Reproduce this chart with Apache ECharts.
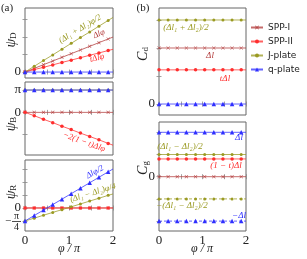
<!DOCTYPE html>
<html><head><meta charset="utf-8">
<script src="https://cdn.jsdelivr.net/npm/echarts@6/dist/echarts.min.js"></script>
<style>html,body{margin:0;padding:0;background:#fff}#c{width:307px;height:259px}</style>
</head><body><div id="c"></div>
<script>
// ---- data (phi in units of pi; last point is the unmarked line end) ----
const phi = [0, 0.21, 0.42, 0.63, 0.84, 1.05, 1.26, 1.47, 1.68, 1.89, 2.0];

const psiD_SPP1 = [0, 0.21, 0.42, 0.63, 0.84, 1.05, 1.26, 1.47, 1.68, 1.89, 2.0];
const psiD_SPP2 = [0, 0.14, 0.27, 0.41, 0.55, 0.68, 0.82, 0.96, 1.09, 1.23, 1.30];
const psiD_J    = [0, 0.33, 0.66, 0.98, 1.31, 1.64, 1.97, 2.29, 2.62, 2.95, 3.12];
const psiD_q    = [0, 0, 0, 0, 0, 0, 0, 0, 0, 0, 0];

const psiB_SPP1 = [0, 0, 0, 0, 0, 0, 0, 0, 0, 0, 0];
const psiB_SPP2 = [0, -0.15, -0.31, -0.46, -0.62, -0.77, -0.93, -1.08, -1.23, -1.39, -1.47];
const psiB_J    = [1, 1, 1, 1, 1, 1, 1, 1, 1, 1, 1];
const psiB_q    = [1, 1, 1, 1, 1, 1, 1, 1, 1, 1, 1];

const psiR_SPP1 = [0, 0, 0, 0, 0, 0, 0, 0, 0, 0, 0];
const psiR_SPP2 = [0, 0, 0, 0, 0, 0, 0, 0, 0, 0, 0];
const psiR_J    = [-1, -0.78, -0.56, -0.34, -0.13, 0.09, 0.31, 0.53, 0.75, 0.97, 1.08];
const psiR_q    = [-1, -0.58, -0.16, 0.26, 0.68, 1.10, 1.52, 1.94, 2.36, 2.78, 3.0];

const Cd_SPP1 = [1, 1, 1, 1, 1, 1, 1, 1, 1, 1, 1];
const Cd_SPP2 = [0.61, 0.61, 0.61, 0.61, 0.61, 0.61, 0.61, 0.61, 0.61, 0.61, 0.61];
const Cd_J    = [1.5, 1.5, 1.5, 1.5, 1.5, 1.5, 1.5, 1.5, 1.5, 1.5, 1.5];
const Cd_q    = [0, 0, 0, 0, 0, 0, 0, 0, 0, 0, 0];

const Cg_SPP1  = [0, 0, 0, 0, 0, 0, 0, 0, 0, 0, 0];
const Cg_SPP2  = [0.4, 0.4, 0.4, 0.4, 0.4, 0.4, 0.4, 0.4, 0.4, 0.4, 0.4];
const Cg_J     = [0.5, 0.5, 0.5, 0.5, 0.5, 0.5, 0.5, 0.5, 0.5, 0.5, 0.5];
const Cg_Jneg  = [-0.5, -0.5, -0.5, -0.5, -0.5, -0.5, -0.5, -0.5, -0.5, -0.5, -0.5];
const Cg_q     = [1, 1, 1, 1, 1, 1, 1, 1, 1, 1, 1];
const Cg_qneg  = [-1, -1, -1, -1, -1, -1, -1, -1, -1, -1, -1];

const legendNames = ['SPP-I', 'SPP-II', 'J-plate', 'q-plate'];

// tick positions / labels
const xTickVals = [0, 0.5, 1, 1.5, 2];
const xTickLabels = [0, 1, 2];
const yTicks = [[0, 1, 2, 3], [-1, 0, 1], [-1, 0, 1, 2, 3], [0, 0.5, 1, 1.5], [-1, -0.5, 0, 0.5, 1]];
const yLabelVals = [[0], [0, 1], [0], [0], [0]];
const psiBLabels = {0: '0', 1: 'π'};
const psiRFraction = {value: -1, sign: '−', num: 'π', den: '4'};

// ---- styling ----
const C = {'SPP-I': '#b23a3a', 'SPP-II': '#ff2e2e', 'J-plate': '#9a9a22', 'q-plate': '#2f2fff'};
const XPATH = 'path://M0,1L1,0L5,4L9,0L10,1L6,5L10,9L9,10L5,6L1,10L0,9L4,5Z';
const SYM = {'SPP-I': XPATH, 'SPP-II': 'circle', 'J-plate': 'circle', 'q-plate': 'triangle'};
const SIZE = {'SPP-I': 3.5, 'SPP-II': 3.5, 'J-plate': 3, 'q-plate': 4.5};
const Z = {'SPP-I': 2, 'SPP-II': 3, 'J-plate': 4, 'q-plate': 5};
const SERIF = '"Liberation Serif","DejaVu Serif",serif';

const grids = [
  {left: 25, top: 8, width: 88, height: 70},
  {left: 25, top: 82, width: 88, height: 73},
  {left: 25, top: 160, width: 88, height: 71},
  {left: 159, top: 8, width: 87, height: 107},
  {left: 159, top: 122, width: 87, height: 109}
];
const yRanges = [[-0.34, 3.66], [-1.91, 1.36], [-1.77, 3.69], [-0.196, 1.714], [-1.223, 1.232]];
const showX = [false, false, true, false, true];

function mk(name, gi, ys, dashed) {
  return {
    type: 'line', name: name, xAxisIndex: gi, yAxisIndex: gi, silent: true,
    data: phi.map((x, i) => i === phi.length - 1 ? {value: [x, ys[i]], symbol: 'none'} : [x, ys[i]]),
    symbol: SYM[name], symbolSize: SIZE[name], showSymbol: true, z: Z[name],
    lineStyle: {color: C[name], width: 1, type: dashed ? [3, 2] : 'solid', opacity: 0.75},
    itemStyle: {color: C[name]}
  };
}

const series = [
  mk('SPP-I', 0, psiD_SPP1), mk('SPP-II', 0, psiD_SPP2), mk('J-plate', 0, psiD_J), mk('q-plate', 0, psiD_q),
  mk('SPP-I', 1, psiB_SPP1), mk('SPP-II', 1, psiB_SPP2), mk('J-plate', 1, psiB_J), mk('q-plate', 1, psiB_q),
  mk('SPP-I', 2, psiR_SPP1), mk('SPP-II', 2, psiR_SPP2), mk('J-plate', 2, psiR_J), mk('q-plate', 2, psiR_q),
  mk('SPP-I', 3, Cd_SPP1), mk('SPP-II', 3, Cd_SPP2), mk('J-plate', 3, Cd_J), mk('q-plate', 3, Cd_q),
  mk('SPP-I', 4, Cg_SPP1), mk('SPP-II', 4, Cg_SPP2), mk('J-plate', 4, Cg_J), mk('J-plate', 4, Cg_Jneg, true),
  mk('q-plate', 4, Cg_q), mk('q-plate', 4, Cg_qneg, true)
];

const tickStyle = {inside: true, length: 2.5, lineStyle: {color: '#888', width: 0.8}};
const xAxis = [], yAxis = [];
grids.forEach((g, i) => {
  xAxis.push({type: 'value', gridIndex: i, min: 0, max: 2, axisLine: {show: false}, splitLine: {show: false},
    axisTick: Object.assign({customValues: xTickVals}, tickStyle),
    axisLabel: {show: showX[i], customValues: xTickLabels, margin: 3, color: '#222', fontFamily: SERIF, fontSize: 13}});
  yAxis.push({type: 'value', gridIndex: i, min: yRanges[i][0], max: yRanges[i][1], axisLine: {show: false}, splitLine: {show: false},
    axisTick: Object.assign({customValues: yTicks[i]}, tickStyle),
    axisLabel: {show: true, customValues: yLabelVals[i], margin: 4, color: '#222', fontFamily: SERIF, fontSize: 13,
      formatter: (v) => (i === 1 ? psiBLabels[v] : '0')}});
});
grids.forEach((g, i) => {
  xAxis.push({type: 'value', gridIndex: i, position: 'top', min: 0, max: 2, axisLine: {show: false}, splitLine: {show: false},
    axisTick: Object.assign({customValues: xTickVals}, tickStyle), axisLabel: {show: false}});
  yAxis.push({type: 'value', gridIndex: i, position: 'right', min: yRanges[i][0], max: yRanges[i][1], axisLine: {show: false}, splitLine: {show: false},
    axisTick: Object.assign({customValues: yTicks[i]}, tickStyle), axisLabel: {show: false}});
});

function txt(x, y, text, color, deg, size, italic) {
  return {type: 'text', x: x, y: y, rotation: (deg || 0) * Math.PI / 180, silent: true,
    style: {text: text, fill: color, align: 'center', verticalAlign: 'middle',
      font: (italic === false ? '' : 'italic ') + (size || 8.5) + 'px ' + SERIF}};
}
function sublabel(x, y, main, sub) {
  return {type: 'text', x: x, y: y, rotation: Math.PI / 2, silent: true,
    style: {text: '{a|' + main + '}{b|' + sub + '}', align: 'center', verticalAlign: 'middle',
      rich: {a: {fontSize: 14, fontStyle: 'italic', fontFamily: SERIF, fill: '#222', lineHeight: 16, verticalAlign: 'bottom'},
             b: {fontSize: 9, fontFamily: SERIF, fill: '#222', lineHeight: 12, verticalAlign: 'bottom'}}}};
}

const graphic = [
  txt(7, 8, '(a)', '#222', 0, 11, false),
  txt(143, 8, '(b)', '#222', 0, 11, false),
  sublabel(10, 40, 'ψ', 'D'),
  sublabel(10, 124, 'ψ', 'B'),
  sublabel(10, 192, 'ψ', 'R'),
  sublabel(142, 54, 'C', 'd'),
  sublabel(142, 168, 'C', 'g'),
  txt(69, 249, 'φ / π', '#222', 0, 12),
  txt(202, 249, 'φ / π', '#222', 0, 12),
  // panel (a) annotations
  txt(80, 29, '(Δl₁ + Δl₂)φ/2', C['J-plate'], 31),
  txt(99, 34, 'Δlφ', C['SPP-I'], 21),
  txt(97, 58, 'tΔlφ', C['SPP-II'], 14),
  txt(84, 142, '−2(1 − t)Δlφ', C['SPP-II'], -20),
  txt(95, 172, 'Δlφ/2', C['q-plate'], 30),
  txt(93, 193, '(Δl₁ − Δl₂)φ/4', C['J-plate'], 17),
  // panel (b) annotations
  txt(186, 28, '(Δl₁ + Δl₂)/2', C['J-plate'], 0, 9),
  txt(210, 56, 'Δl', C['SPP-I'], 0, 9),
  txt(225, 79, 'tΔl', C['SPP-II'], 0, 9),
  txt(239, 138, 'Δl', C['q-plate'], 0, 9),
  txt(180, 147, '(Δl₁ − Δl₂)/2', C['J-plate'], 0, 9),
  txt(226, 166, '(1 − t)Δl', C['SPP-II'], 0, 9),
  txt(182, 206, '−(Δl₁ − Δl₂)/2', C['J-plate'], 0, 9),
  txt(239, 216, '−Δl', C['q-plate'], 0, 9)
];

const chart = echarts.init(document.getElementById('c'), null, {renderer: 'canvas'});
chart.setOption({
  animation: false,
  backgroundColor: '#fff',
  grid: grids.map(g => Object.assign({show: true, borderColor: '#666', borderWidth: 1, containLabel: false}, g)),
  xAxis: xAxis, yAxis: yAxis,
  legend: {data: legendNames, orient: 'vertical', left: 250, top: 22, itemWidth: 12, itemHeight: 5, itemGap: 3,
    padding: 0, selectedMode: false, textStyle: {fontSize: 9, fontFamily: '"DejaVu Sans",sans-serif', color: '#222', lineHeight: 11}},
  series: series
});

// fraction tick label (−π/4) placed at its axis value
const fy = chart.convertToPixel({yAxisIndex: 2}, psiRFraction.value);
const rx = grids[2].left - 4;
graphic.push(
  {type: 'text', x: rx - 4.5, y: fy - 5, silent: true, style: {text: psiRFraction.num, fill: '#222', align: 'center', verticalAlign: 'middle', font: '10px ' + SERIF}},
  {type: 'line', silent: true, shape: {x1: rx - 9, y1: fy + 0.5, x2: rx, y2: fy + 0.5}, style: {stroke: '#222', lineWidth: 0.8}},
  {type: 'text', x: rx - 4.5, y: fy + 6, silent: true, style: {text: psiRFraction.den, fill: '#222', align: 'center', verticalAlign: 'middle', font: '10px ' + SERIF}},
  {type: 'text', x: rx - 13, y: fy, silent: true, style: {text: psiRFraction.sign, fill: '#222', align: 'center', verticalAlign: 'middle', font: '11px ' + SERIF}}
);
chart.setOption({graphic: graphic});
</script></body></html>
